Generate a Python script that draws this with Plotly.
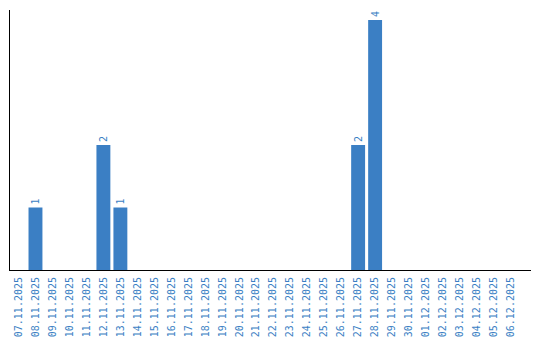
import plotly.graph_objects as go

dates = ["07.11.2025", "08.11.2025", "09.11.2025", "10.11.2025", "11.11.2025",
         "12.11.2025", "13.11.2025", "14.11.2025", "15.11.2025", "16.11.2025",
         "17.11.2025", "18.11.2025", "19.11.2025", "20.11.2025", "21.11.2025",
         "22.11.2025", "23.11.2025", "24.11.2025", "25.11.2025", "26.11.2025",
         "27.11.2025", "28.11.2025", "29.11.2025", "30.11.2025", "01.12.2025",
         "02.12.2025", "03.12.2025", "04.12.2025", "05.12.2025", "06.12.2025"]
counts = [0, 1, 0, 0, 0, 2, 1, 0, 0, 0,
          0, 0, 0, 0, 0, 0, 0, 0, 0, 0,
          2, 4, 0, 0, 0, 0, 0, 0, 0, 0]

BLUE = "#3b7fc4"
labels = [str(v) if v else "" for v in counts]

fig = go.Figure(go.Bar(
    x=dates, y=counts, marker=dict(color=BLUE, line=dict(width=0)),
    text=labels, textposition="outside", textangle=-90,
    textfont=dict(color=BLUE, size=10, family="DejaVu Sans Mono"),
    cliponaxis=False,
))
fig.update_layout(
    width=540, height=340, margin=dict(l=10, r=9, t=10, b=70, autoexpand=False),
    paper_bgcolor="white", plot_bgcolor="white", showlegend=False,
    bargap=0.18,
    xaxis=dict(type="category", range=[-0.5, 30.18], showline=True, linecolor="black",
               linewidth=1, showgrid=False, ticks="", tickangle=-90, automargin=False,
               ticklabelstandoff=2,
               tickfont=dict(family="DejaVu Sans Mono", size=10, color=BLUE)),
    yaxis=dict(range=[0, 4.16], showline=True, linecolor="black", linewidth=1,
               showgrid=False, showticklabels=False, ticks="", zeroline=False,
               automargin=False),
)
fig.write_html("out.html")
